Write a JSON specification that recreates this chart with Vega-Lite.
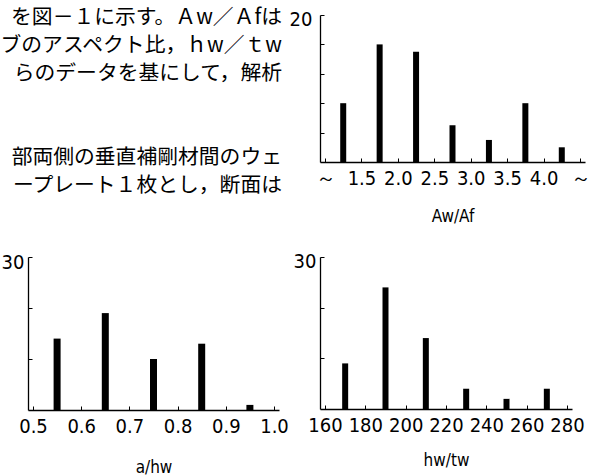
{
  "$schema": "https://vega.github.io/schema/vega-lite/v6.json",
  "background": "white",
  "autosize": {"type": "none"},
  "padding": {"left": 28, "top": 15, "right": 583, "bottom": 460},
  "columns": 2,
  "align": "each",
  "bounds": "flush",
  "spacing": {"row": 71, "column": 38},
  "datasets": {
    "lines": [
      {"line": 1, "pos": 1, "text": "を図－１に示す。Ａw／Ａfは"},
      {"line": 2, "pos": 1, "text": "ブのアスペクト比，ｈw／ｔw"},
      {"line": 3, "pos": 1, "text": "らのデータを基にして，解析"},
      {"line": 6, "pos": 1, "text": "部両側の垂直補剛材間のウェ"},
      {"line": 7, "pos": 1, "text": "ープレート１枚とし，断面は"}
    ],
    "awaf": [
      {"ratio": 1.25, "count": 8},
      {"ratio": 1.75, "count": 16},
      {"ratio": 2.25, "count": 15},
      {"ratio": 2.75, "count": 5},
      {"ratio": 3.25, "count": 3},
      {"ratio": 3.75, "count": 8},
      {"ratio": 4.25, "count": 2}
    ],
    "ahw": [
      {"ratio": 0.55, "count": 14},
      {"ratio": 0.65, "count": 19},
      {"ratio": 0.75, "count": 10},
      {"ratio": 0.85, "count": 13},
      {"ratio": 0.95, "count": 1}
    ],
    "hwtw": [
      {"ratio": 170, "count": 9},
      {"ratio": 190, "count": 24},
      {"ratio": 210, "count": 14},
      {"ratio": 230, "count": 4},
      {"ratio": 250, "count": 2},
      {"ratio": 270, "count": 4}
    ]
  },
  "concat": [
    {
      "width": 254,
      "height": 171,
      "data": {"name": "lines"},
      "mark": {"type": "text", "align": "right", "baseline": "middle", "font": "Noto Sans CJK JP", "fontSize": 20.8, "color": "black"},
      "encoding": {
        "x": {"field": "pos", "type": "quantitative", "scale": {"domain": [0, 1], "nice": false, "zero": false}, "axis": null},
        "y": {"field": "line", "type": "quantitative", "scale": {"domain": [0.9, 7], "nice": false, "zero": false, "reverse": true}, "axis": null},
        "text": {"field": "text"}
      }
    },
    {
      "width": 265,
      "height": 147,
      "data": {"name": "awaf"},
      "mark": {"type": "bar", "color": "black", "size": 6, "orient": "vertical"},
      "encoding": {
        "x": {
          "field": "ratio", "type": "quantitative",
          "scale": {"domain": [1, 4.5], "nice": false, "zero": false},
          "axis": {"title": "Aw/Af", "values": [1, 1.5, 2, 2.5, 3, 3.5, 4, 4.5], "labelExpr": "datum.value == 1 || datum.value == 4.5 ? '～' : format(datum.value, '.1f')", "titlePadding": 20}
        },
        "y": {
          "field": "count", "type": "quantitative",
          "scale": {"domain": [0, 20], "nice": false},
          "axis": {"title": null, "values": [4, 8, 12, 16, 20], "labelOffset": 4, "labelPadding": 12, "labelExpr": "datum.value == 20 ? '20' : ''"}
        }
      }
    },
    {
      "width": 251,
      "height": 153,
      "data": {"name": "ahw"},
      "mark": {"type": "bar", "color": "black", "size": 7, "orient": "vertical"},
      "encoding": {
        "x": {
          "field": "ratio", "type": "quantitative",
          "scale": {"domain": [0.5, 1.0], "nice": false, "zero": false},
          "axis": {"title": "a/hw", "values": [0.5, 0.6, 0.7, 0.8, 0.9, 1.0], "format": ".1f", "titlePadding": 23}
        },
        "y": {
          "field": "count", "type": "quantitative",
          "scale": {"domain": [0, 30], "nice": false},
          "axis": {"title": null, "values": [10, 20, 30], "labelOffset": 5, "labelPadding": 8, "labelExpr": "datum.value == 30 ? '30' : ''"}
        }
      }
    },
    {
      "width": 252,
      "height": 152,
      "data": {"name": "hwtw"},
      "mark": {"type": "bar", "color": "black", "size": 6, "orient": "vertical"},
      "encoding": {
        "x": {
          "field": "ratio", "type": "quantitative",
          "scale": {"domain": [160, 280], "nice": false, "zero": false},
          "axis": {"title": "hw/tw", "values": [160, 180, 200, 220, 240, 260, 280], "titlePadding": 17}
        },
        "y": {
          "field": "count", "type": "quantitative",
          "scale": {"domain": [0, 30], "nice": false},
          "axis": {"title": null, "values": [10, 20, 30], "labelOffset": 4, "labelPadding": 8, "labelExpr": "datum.value == 30 ? '30' : ''"}
        }
      }
    }
  ],
  "config": {
    "view": {"stroke": null},
    "axis": {
      "grid": false,
      "domainColor": "black",
      "domainWidth": 1.3,
      "tickColor": "black",
      "tickSize": -4,
      "labelPadding": 10,
      "labelColor": "black",
      "labelFont": "'Liberation Sans Narrow', 'DejaVu Sans Condensed', 'Liberation Sans', sans-serif",
      "labelFontSize": 20,
      "titleColor": "black",
      "titleFont": "'Liberation Sans Narrow', 'DejaVu Sans Condensed', 'Liberation Sans', sans-serif",
      "titleFontSize": 17,
      "titleFontWeight": "normal"
    }
  }
}
